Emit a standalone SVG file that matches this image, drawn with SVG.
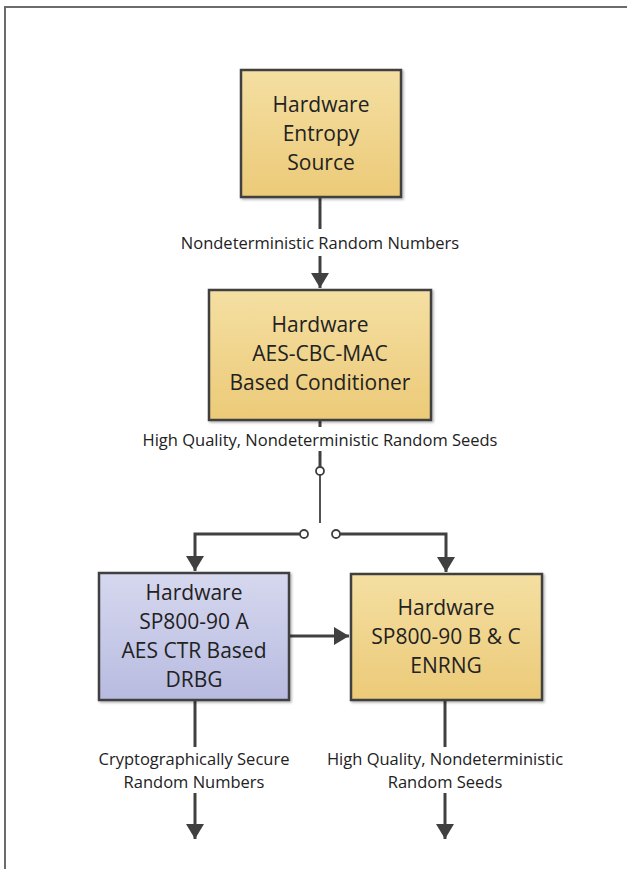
<svg xmlns="http://www.w3.org/2000/svg" width="627" height="869" viewBox="0 0 627 869">
<defs>
<linearGradient id="gy" x1="0" y1="0" x2="0" y2="1"><stop offset="0" stop-color="#f4dfa2"/><stop offset="1" stop-color="#ecca78"/></linearGradient>
<linearGradient id="gb" x1="0" y1="0" x2="0" y2="1"><stop offset="0" stop-color="#d6d8ef"/><stop offset="1" stop-color="#b8bbe0"/></linearGradient>
<marker id="ah" markerWidth="7" markerHeight="7" refX="5" refY="3.5" orient="auto" markerUnits="strokeWidth" overflow="visible"><path d="M0,0.5 L5,3.5 L0,6.5 Z" fill="#404040"/></marker>
<filter id="sh" x="-10%" y="-10%" width="130%" height="130%"><feDropShadow dx="1.5" dy="1.5" stdDeviation="1" flood-color="#000" flood-opacity="0.3"/></filter>
</defs>
<style>
.box{stroke:#404040;stroke-width:2.5;filter:url(#sh)}
.t{font-family:"Open Sans","Liberation Sans",sans-serif;font-size:21px;fill:#222;text-anchor:middle;dominant-baseline:central}
.l{font-family:"Open Sans","Liberation Sans",sans-serif;font-size:16.5px;fill:#222;text-anchor:middle;dominant-baseline:central}
.c{fill:none;stroke:#404040;stroke-width:3}
.thin{fill:none;stroke:#404040;stroke-width:1.8}
</style>
<rect width="627" height="869" fill="#fff"/>
<path d="M5,869 V7 H627" fill="none" stroke="#6b6b6b" stroke-width="2"/>
<g id="connectors">
<path class="c" d="M320,197 V229"/>
<path class="c" d="M320,256 V288" marker-end="url(#ah)"/>
<path class="c" d="M320,420 V427"/>
<path class="c" d="M320,451 V467"/>
<path class="thin" d="M320,475 V523"/>
<circle cx="320" cy="471" r="4" fill="#fff" stroke="#404040" stroke-width="1.8"/>
<path class="c" d="M300,534 H195 V571" marker-end="url(#ah)"/>
<circle cx="304" cy="534" r="4" fill="#fff" stroke="#404040" stroke-width="1.8"/>
<path class="c" d="M340,534 H446 V572" marker-end="url(#ah)"/>
<circle cx="336" cy="534" r="4" fill="#fff" stroke="#404040" stroke-width="1.8"/>
<path class="c" d="M289,636 H349" marker-end="url(#ah)"/>
<path class="c" d="M195,700 V747"/>
<path class="c" d="M195,793 V839" marker-end="url(#ah)"/>
<path class="c" d="M445,700 V747"/>
<path class="c" d="M445,793 V839" marker-end="url(#ah)"/>
<text class="l" x="320" y="242">Nondeterministic Random Numbers</text>
<text class="l" x="320" y="439">High Quality, Nondeterministic Random Seeds</text>
<text class="l" x="194" y="758">Cryptographically Secure</text>
<text class="l" x="194" y="781">Random Numbers</text>
<text class="l" x="445" y="758">High Quality, Nondeterministic</text>
<text class="l" x="445" y="781">Random Seeds</text>
</g>
<g id="entropy">
<rect class="box" x="241" y="70" width="160" height="127" fill="url(#gy)"/>
<text class="t" x="321" y="104">Hardware</text>
<text class="t" x="321" y="133">Entropy</text>
<text class="t" x="321" y="162">Source</text>
</g>
<g id="conditioner">
<rect class="box" x="209" y="290" width="222" height="130" fill="url(#gy)"/>
<text class="t" x="320" y="324">Hardware</text>
<text class="t" x="320" y="353">AES-CBC-MAC</text>
<text class="t" x="320" y="382">Based Conditioner</text>
</g>
<g id="drbg">
<rect class="box" x="99" y="573" width="190" height="127" fill="url(#gb)"/>
<text class="t" x="194" y="592">Hardware</text>
<text class="t" x="194" y="621">SP800-90 A</text>
<text class="t" x="194" y="650">AES CTR Based</text>
<text class="t" x="194" y="679">DRBG</text>
</g>
<g id="enrng">
<rect class="box" x="351" y="574" width="191" height="126" fill="url(#gy)"/>
<text class="t" x="446" y="607">Hardware</text>
<text class="t" x="446" y="636">SP800-90 B &amp; C</text>
<text class="t" x="446" y="665">ENRNG</text>
</g>
</svg>
